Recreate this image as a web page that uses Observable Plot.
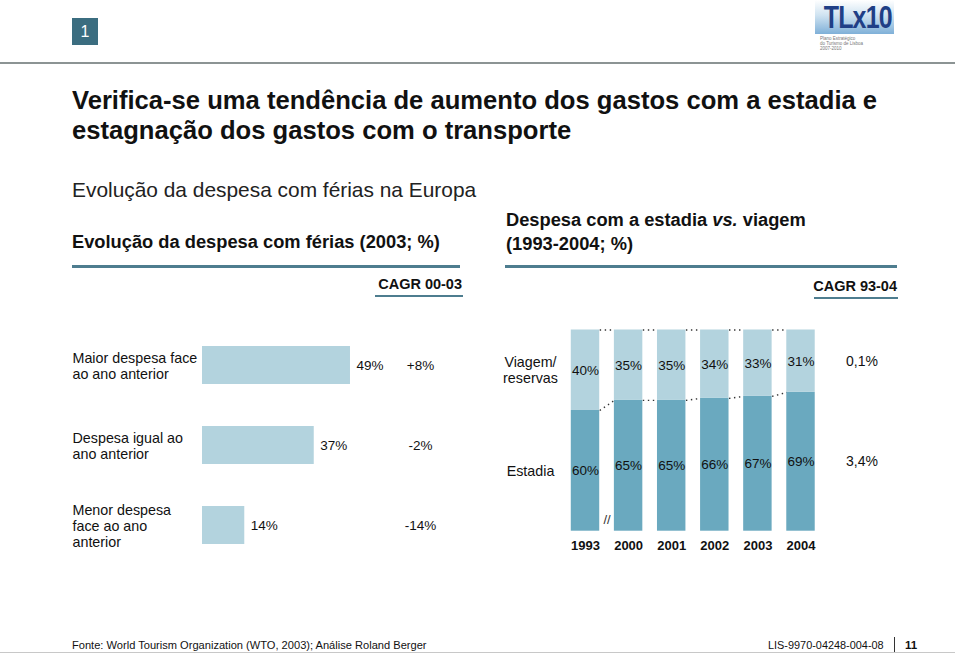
<!DOCTYPE html>
<html>
<head>
<meta charset="utf-8">
<script src="https://cdn.jsdelivr.net/npm/d3@7"></script>
<script src="https://cdn.jsdelivr.net/npm/@observablehq/plot@0.6"></script>
<style>
  html, body { margin: 0; padding: 0; background: #fff; }
  body { width: 960px; height: 654px; position: relative; overflow: hidden;
         font-family: "Liberation Sans", Arial, sans-serif; color: #111; }
  .abs { position: absolute; white-space: nowrap; }
  .rule { position: absolute; }
</style>
</head>
<body>
<div class="abs" style="left:72px;top:18px;width:26px;height:27px;background:#3b6d80;color:#fff;font-size:16px;line-height:27px;text-align:center;">1</div>

<div class="abs" style="left:815px;top:0px;width:79px;height:34px;background:linear-gradient(180deg,#ffffff 0%,#cfe3f1 45%,#7fb0d8 100%);overflow:hidden;">
  <div style="font-weight:bold;font-size:32px;line-height:34px;color:#1f3f86;width:79px;text-align:center;transform:scaleX(0.78);transform-origin:center;letter-spacing:-1px;">TLx10</div>
</div>
<div class="abs" style="left:820px;top:36px;font-size:4.5px;line-height:5px;color:#777;">Plano Estratégico<br>do Turismo de Lisboa<br>2007-2010</div>

<div class="rule" style="left:0;top:62px;width:955px;height:2px;background:#8c9494;"></div>

<div class="abs" style="left:72px;top:85px;font-size:25.6px;line-height:30px;font-weight:bold;">Verifica-se uma tendência de aumento dos gastos com a estadia e<br>estagnação dos gastos com o transporte</div>

<div class="abs" style="left:72px;top:177px;font-size:20.9px;line-height:25px;color:#222;">Evolução da despesa com férias na Europa</div>

<div class="abs" style="left:72px;top:230px;font-size:18.3px;line-height:24px;font-weight:bold;">Evolução da despesa com férias (2003; %)</div>
<div class="rule" style="left:72px;top:265px;width:388px;height:3px;background:#4e7d8f;"></div>

<div class="abs" style="left:506px;top:208px;font-size:18.3px;line-height:24px;font-weight:bold;">Despesa com a estadia <i>vs.</i> viagem<br>(1993-2004; %)</div>
<div class="rule" style="left:505px;top:265px;width:392px;height:3px;background:#4e7d8f;"></div>

<div class="abs" style="left:370px;width:92px;top:276px;font-size:14.5px;line-height:16px;font-weight:bold;text-align:right;">CAGR 00-03</div>
<div class="rule" style="left:375px;top:295px;width:88px;height:2px;background:#4e7d8f;"></div>
<div class="abs" style="left:805px;width:92px;top:278px;font-size:14.5px;line-height:16px;font-weight:bold;text-align:right;">CAGR 93-04</div>
<div class="rule" style="left:814px;top:297px;width:84px;height:2px;background:#4e7d8f;"></div>

<div id="left" class="abs" style="left:60px;top:320px;"></div>
<div id="right" class="abs" style="left:490px;top:320px;"></div>

<div class="abs" style="left:72px;top:638px;font-size:11.1px;line-height:14px;">Fonte: World Tourism Organization (WTO, 2003); Análise Roland Berger</div>
<div class="abs" style="left:768px;top:638px;font-size:10.9px;line-height:14px;">LIS-9970-04248-004-08</div>
<div class="rule" style="left:894px;top:637px;width:1px;height:15px;background:#333;"></div>
<div class="abs" style="left:905px;top:638px;font-size:11.5px;line-height:14px;font-weight:bold;">11</div>
<div class="rule" style="left:0;top:652px;width:955px;height:1px;background:#c8c8c8;"></div>

<script>
// ---- Data ----
const leftCats = ["Maior despesa face\nao ano anterior", "Despesa igual ao\nano anterior", "Menor despesa\nface ao ano\nanterior"];
const leftShare = [49, 37, 14];
const leftCagr = ["+8%", "-2%", "-14%"];

const years = ["1993", "2000", "2001", "2002", "2003", "2004"];
const estadia = [60, 65, 65, 66, 67, 69];
const viagem = [40, 35, 35, 34, 33, 31];
const segLabels = ["Estadia", "Viagem/\nreservas"];
const rightCagr = ["3,4%", "0,1%"]; // Estadia, Viagem

const LIGHT = "#b3d3de", DARK = "#6aa9bf";
const FONT = "'Liberation Sans', Arial, sans-serif";

// ---- Left chart ----
const leftData = leftCats.map((c, i) => ({cat: c, share: leftShare[i], cagr: leftCagr[i]}));
const left = Plot.plot({
  width: 400, height: 250,
  marginLeft: 142, marginRight: 0, marginTop: 5, marginBottom: 5,
  x: {domain: [0, 258 / 3.02], axis: null},
  y: {domain: leftCats, paddingInner: 0.52, paddingOuter: 0.26, axis: null},
  style: {fontFamily: FONT, fontSize: "13.5px", color: "#111", background: "transparent", overflow: "visible"},
  marks: [
    Plot.barX(leftData, {x: "share", y: "cat", fill: LIGHT}),
    Plot.text(leftData, {x: "share", y: "cat", text: d => d.share + "%", textAnchor: "start", dx: 6, fill: "#111"}),
    Plot.text(leftData, {y: "cat", text: "cagr", frameAnchor: "right", textAnchor: "middle", dx: -40, fill: "#111"}),
    Plot.text(leftData, {y: "cat", text: "cat", frameAnchor: "left", textAnchor: "start", dx: -130, fontSize: 14.3, lineHeight: 1.12, fill: "#111"})
  ]
});
document.getElementById("left").appendChild(left);

// ---- Right chart ----
const segs = [];
years.forEach((y, i) => {
  segs.push({i, year: y, seg: 0, y1: 0, y2: estadia[i], v: estadia[i]});
  segs.push({i, year: y, seg: 1, y1: estadia[i], y2: estadia[i] + viagem[i], v: viagem[i]});
});
const HW = 0.33;
const links = [];
for (let i = 0; i < years.length - 1; i++) {
  links.push({x1: i + HW, x2: i + 1 - HW, y1: estadia[i] + viagem[i], y2: estadia[i + 1] + viagem[i + 1]});
  links.push({x1: i + HW, x2: i + 1 - HW, y1: estadia[i], y2: estadia[i + 1]});
}
const mid = d => (d.y1 + d.y2) / 2;
const right = Plot.plot({
  width: 420, height: 245,
  marginLeft: 73.45, marginRight: 87.95, marginTop: 9.5, marginBottom: 34.3,
  x: {domain: [-0.5, years.length - 0.5], axis: null},
  y: {domain: [0, 100], axis: null},
  style: {fontFamily: FONT, fontSize: "13.5px", color: "#111", background: "transparent", overflow: "visible"},
  marks: [
    Plot.rect(segs, {x1: d => d.i - HW, x2: d => d.i + HW, y1: "y1", y2: "y2", fill: d => d.seg ? LIGHT : DARK}),
    Plot.link(links, {x1: "x1", x2: "x2", y1: "y1", y2: "y2", stroke: "#333", strokeWidth: 1.4, strokeDasharray: "1.4,3.6"}),
    Plot.text(segs, {x: "i", y: mid, text: d => d.v + "%", fill: "#111"}),
    Plot.text(segs.filter(d => d.i === 0), {x: "i", y: mid, text: d => segLabels[d.seg], dx: -55, fontSize: 14.3, lineHeight: 1.1, fill: "#111"}),
    Plot.text(segs.filter(d => d.i === years.length - 1), {x: "i", y: mid, text: d => rightCagr[d.seg], dx: 61, fontSize: 14, fill: "#111"}),
    Plot.text(years, {x: (d, i) => i, frameAnchor: "bottom", dy: 18.5, text: d => d, fontWeight: "bold", fontSize: 13, fill: "#111"}),
    Plot.text([[0, 1]], {x: d => (d[0] + d[1]) / 2, frameAnchor: "bottom", dy: -7, text: () => "//", fontSize: 13, fill: "#333"})
  ]
});
document.getElementById("right").appendChild(right);
</script>
</body>
</html>
